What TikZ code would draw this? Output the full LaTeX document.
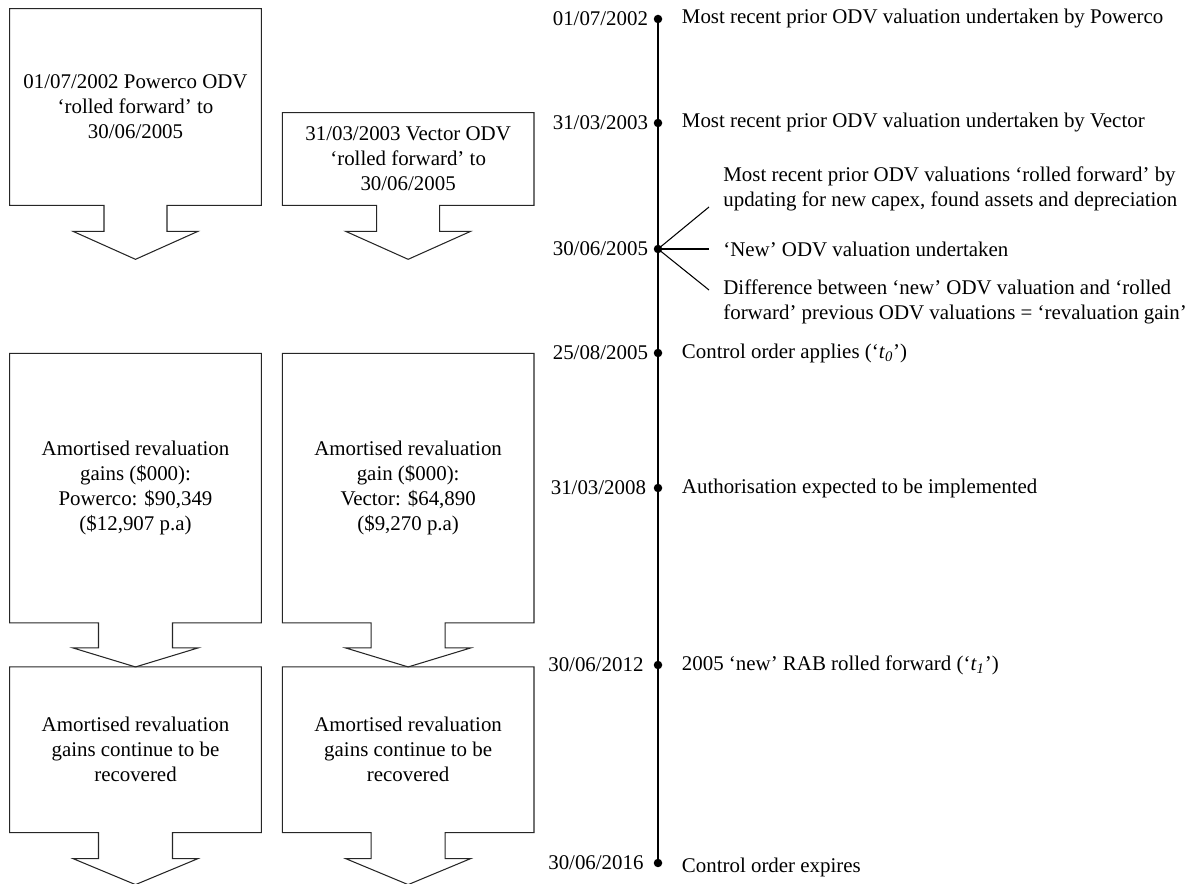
\documentclass[tikz,border=0pt]{standalone}
\usepackage{fontspec}
\setmainfont{Liberation Serif}
\usetikzlibrary{positioning, calc}

% box with a block arrow hanging below it: node, stem half width, stem length, head length
\newcommand{\blockdown}[4]{%
  \draw[arrowline] (#1.north west) -- (#1.north east) -- (#1.south east)
    -- ($(#1.south)+(#2,0)$) -- ($(#1.south)+(#2,-#3)$)
    -- ($(#1.south)+(62.5,-#3)$) -- ($(#1.south)+(0,-#3-#4)$)
    -- ($(#1.south)+(-62.5,-#3)$) -- ($(#1.south)+(-#2,-#3)$)
    -- ($(#1.south)+(-#2,0)$) -- (#1.south west) -- cycle;}

\begin{document}
\begin{tikzpicture}[
    x=0.02cm, y=0.02cm,
    every node/.style={font=\fontsize{11.9}{14.2}\selectfont},
    flowbox/.style={rectangle, minimum width=5.02cm, inner sep=0pt, align=center},
    arrowline/.style={draw=black!85, line width=0.6pt, line join=miter},
    tickdot/.style={circle, fill=black, minimum size=0.17cm, inner sep=0pt},
    datelbl/.style={inner sep=0pt},
    event/.style={inner sep=0pt, align=left},
    tline/.style={line width=1.1pt},
    spoke/.style={line width=0.6pt},
]
\useasboundingbox (0,0) rectangle (1191,-884);

% --- Powerco / Vector boxes ---
\node[flowbox, minimum height=3.92cm] (pwODV) at (135.5,-107)
    {01/07/2002 Powerco ODV\\‘rolled forward’ to\\30/06/2005};
\node[flowbox, minimum height=1.84cm, right=0.42cm of pwODV.south east, anchor=south west] (vcODV)
    {31/03/2003 Vector ODV\\‘rolled forward’ to\\30/06/2005};

\node[flowbox, minimum height=5.38cm, below=2.96cm of pwODV] (pwGain)
    {Amortised revaluation\\gains (\$000):\\Powerco: \$90,349\\(\$12,907 p.a)};
\node[flowbox, minimum height=5.38cm, right=0.42cm of pwGain] (vcGain)
    {Amortised revaluation\\gain (\$000):\\Vector: \$64,890\\(\$9,270 p.a)};

\node[flowbox, minimum height=3.3cm, below=0.88cm of pwGain] (pwRest)
    {Amortised revaluation\\gains continue to be\\recovered};
\node[flowbox, minimum height=3.3cm, right=0.42cm of pwRest] (vcRest)
    {Amortised revaluation\\gains continue to be\\recovered};

\blockdown{pwODV}{31.5}{26}{28}
\blockdown{vcODV}{31.5}{26}{28}
\blockdown{pwGain}{37}{25}{19}
\blockdown{vcGain}{37}{25}{19}
\blockdown{pwRest}{37}{26}{26}
\blockdown{vcRest}{37}{26}{26}

% --- Timeline ---
\draw[tline] (658,-19) coordinate (top) -- (658,-863) coordinate (bot);
\node[tickdot] (t02) at (top) {};
\node[tickdot] (t03) at (658,-123) {};
\node[tickdot] (t05) at (658,-249) {};
\node[tickdot] (t05b) at (658,-353) {};
\node[tickdot] (t08) at (658,-488) {};
\node[tickdot] (t12) at (658,-665) {};
\node[tickdot] (t16) at (bot) {};

\node[datelbl, left=0.1cm of t02] {01/07/2002};
\node[datelbl, left=0.1cm of t03] {31/03/2003};
\node[datelbl, left=0.1cm of t05] {30/06/2005};
\node[datelbl, left=0.1cm of t05b] {25/08/2005};
\node[datelbl, left=0.14cm of t08] {31/03/2008};
\node[datelbl, left=0.19cm of t12] {30/06/2012};
\node[datelbl, left=0.19cm of t16] {30/06/2016};

\node[event, right=0.38cm of t02] (ev02) {Most recent prior ODV valuation undertaken by Powerco};
\node[event, right=0.38cm of t03] (ev03) {Most recent prior ODV valuation undertaken by Vector};

% three comments on 30/06/2005
\coordinate (sp1) at (709,-207);
\coordinate (sp2) at (709,-249);
\coordinate (sp3) at (709,-290);
\draw[spoke] (t05.center) -- (sp1);
\draw[spoke] (t05.center) -- (sp2);
\draw[spoke] (t05.center) -- (sp3);
\node[event, anchor=west] (ev05a) at (723,-189)
    {Most recent prior ODV valuations ‘rolled forward’ by\\updating for new capex, found assets and depreciation};
\node[event, right=0.28cm of sp2] (ev05b) {‘New’ ODV valuation undertaken};
\node[event, anchor=west] (ev05c) at (723,-302)
    {Difference between ‘new’ ODV valuation and ‘rolled\\forward’ previous ODV valuations = ‘revaluation gain’};

\node[event, right=0.38cm of t05b] (ev05d) {Control order applies (‘\textit{t}\textsubscript{\textit{0}}’)};
\node[event, right=0.38cm of t08] (ev08) {Authorisation expected to be implemented};
\node[event, right=0.38cm of t12] (ev12) {2005 ‘new’ RAB rolled forward (‘\textit{t}\textsubscript{\textit{1}}’)};
\node[event, right=0.38cm of t16, yshift=-0.08cm] (ev16) {Control order expires};

\end{tikzpicture}
\end{document}
